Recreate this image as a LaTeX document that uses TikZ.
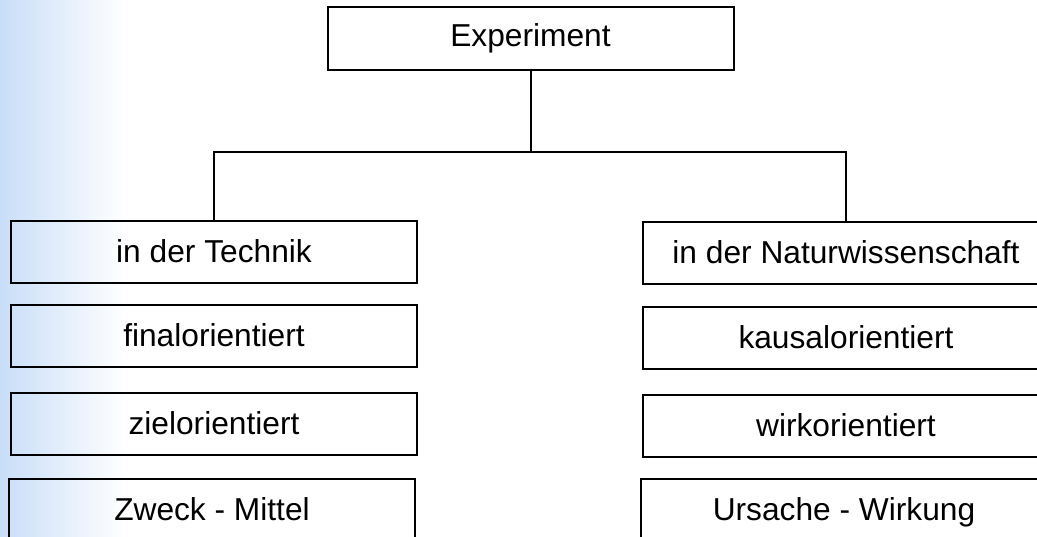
\documentclass[tikz,border=0pt]{standalone}
\usepackage{fontspec}
\setmainfont{Liberation Sans}
\definecolor{bgblue}{RGB}{200,222,248}
\begin{document}
\begin{tikzpicture}[x=1pt,y=-1pt,
  box/.style={draw=black,line width=2pt,minimum width=406pt,minimum height=62pt,inner sep=0pt,
    text height=23pt,text depth=2pt,
    font=\fontsize{31.7}{36}\selectfont},
  conn/.style={draw=black,line width=2pt}]
\useasboundingbox (0,0) rectangle (1037,537);
\clip (0,0) rectangle (1037,537);
\fill[white] (0,0) rectangle (1037,537);
\shade[left color=bgblue,right color=white] (0,0) rectangle (125,537);
\node[box,minimum height=63pt,text depth=6pt] (exp) at (530.5,38.5) {Experiment};
\node[box] (l1) at (214,252) {in der Technik};
\node[box] (l2) at (214,336) {finalorientiert};
\node[box] (l3) at (214,424) {zielorientiert};
\node[box] (l4) at (212,510) {Zweck - Mittel};
\node[box] (r1) at (846,253.5) {in der Naturwissenschaft};
\node[box] (r2) at (846,338) {kausalorientiert};
\node[box] (r3) at (846,426) {wirkorientiert};
\node[box] (r4) at (844,510) {Ursache - Wirkung};
\coordinate (j) at (530.5,152);
\draw[conn] (exp.south) -- (j);
\draw[conn] (j) -| (l1.north);
\draw[conn] (j) -| (r1.north);
\end{tikzpicture}
\end{document}
